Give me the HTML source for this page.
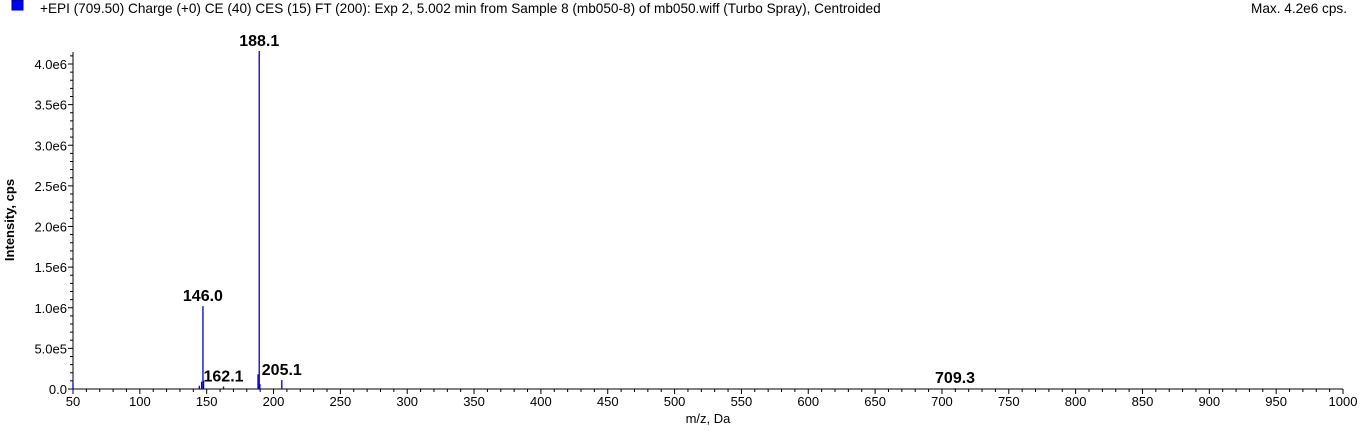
<!DOCTYPE html>
<html><head><meta charset="utf-8"><style>
body{margin:0;background:#fff;width:1360px;height:426px;overflow:hidden;font-family:"Liberation Sans",Arial,sans-serif}
svg text{font-family:"Liberation Sans",Arial,sans-serif}
</style></head><body>
<svg id="chart" width="1360" height="426" xmlns="http://www.w3.org/2000/svg">
<rect x="12" y="0" width="11" height="10" fill="#0000ff" stroke="#000080"/>
<text x="40" y="13" font-size="13.6" fill="#000">+EPI (709.50) Charge (+0) CE (40) CES (15) FT (200): Exp 2, 5.002 min from Sample 8 (mb050-8) of mb050.wiff (Turbo Spray), Centroided</text>
<text x="1347" y="13" font-size="13.6" text-anchor="end" fill="#000">Max. 4.2e6 cps.</text>
<text transform="translate(14,220) rotate(-90)" font-size="13" font-weight="bold" text-anchor="middle">Intensity, cps</text>
<text x="708" y="423" font-size="13" text-anchor="middle">m/z, Da</text>
<g id="axes"></g><g id="marks"></g>
</svg>
<script>
const mzPeaks=[50,144.5,146.2,147.2,147.7,162.6,188.4,189.3,189.8,206.2,709.8];
const intensities=[80000,40000,90000,1020000,100000,30000,180000,4160000,60000,110000,10000];
const labelMz=[147.2,189.3,162.6,206.2,709.8];
const labelInt=[1020000,4160000,30000,110000,10000];
const labelText=["146.0","188.1","162.1","205.1","709.3"];
const xTicks=[50,100,150,200,250,300,350,400,450,500,550,600,650,700,750,800,850,900,950,1000];
const yTicks=[0,500000,1000000,1500000,2000000,2500000,3000000,3500000,4000000];
const yTickLabels=["0.0","5.0e5","1.0e6","1.5e6","2.0e6","2.5e6","3.0e6","3.5e6","4.0e6"];
const NS="http://www.w3.org/2000/svg";
const X0=73,X1=1343,Y0=389,Ytop=64;
const xs=v=>X0+(v-50)*(X1-X0)/950;
const ys=v=>Y0-v*(Y0-Ytop)/4000000;
function mk(tag,attrs,parent){const e=document.createElementNS(NS,tag);for(const k in attrs)e.setAttribute(k,attrs[k]);parent.appendChild(e);return e;}
const axes=document.getElementById('axes'),marks=document.getElementById('marks');
let a=mk('line',{x1:X0,y1:Y0,x2:X1,y2:Y0,stroke:'#000'},axes);

a=mk('line',{x1:X0,y1:Y0,x2:X0,y2:52,stroke:'#000'},axes);

for(let v=50;v<=1000;v+=10){const major=(v%50===0);const t=mk('line',{x1:xs(v),y1:Y0,x2:xs(v),y2:Y0+(major?5:3),stroke:'#000'},axes);
}
xTicks.forEach(v=>{const t=mk('text',{x:xs(v),y:Y0+17,'font-size':13,'text-anchor':'middle'},axes);t.textContent=v;
});
for(let v=0;v<=4100000;v+=100000){const major=(v%500000===0);const t=mk('line',{x1:X0,y1:ys(v),x2:X0-(major?5:3),y2:ys(v),stroke:'#000'},axes);
}
yTicks.forEach((v,i)=>{const t=mk('text',{x:X0-6,y:ys(v)+5,'font-size':13,'text-anchor':'end'},axes);t.textContent=yTickLabels[i];
});
mzPeaks.forEach((m,i)=>{const p=mk('line',{x1:xs(m),y1:Y0,x2:xs(m),y2:ys(intensities[i]),stroke:'#0000c8','stroke-width':1.3},marks);
});
labelMz.forEach((m,i)=>{const t=mk('text',{x:xs(m),y:ys(labelInt[i])-5,'font-size':16,'font-weight':'bold','text-anchor':'middle'},marks);
t.textContent=labelText[i];});
</script>
</body></html>
